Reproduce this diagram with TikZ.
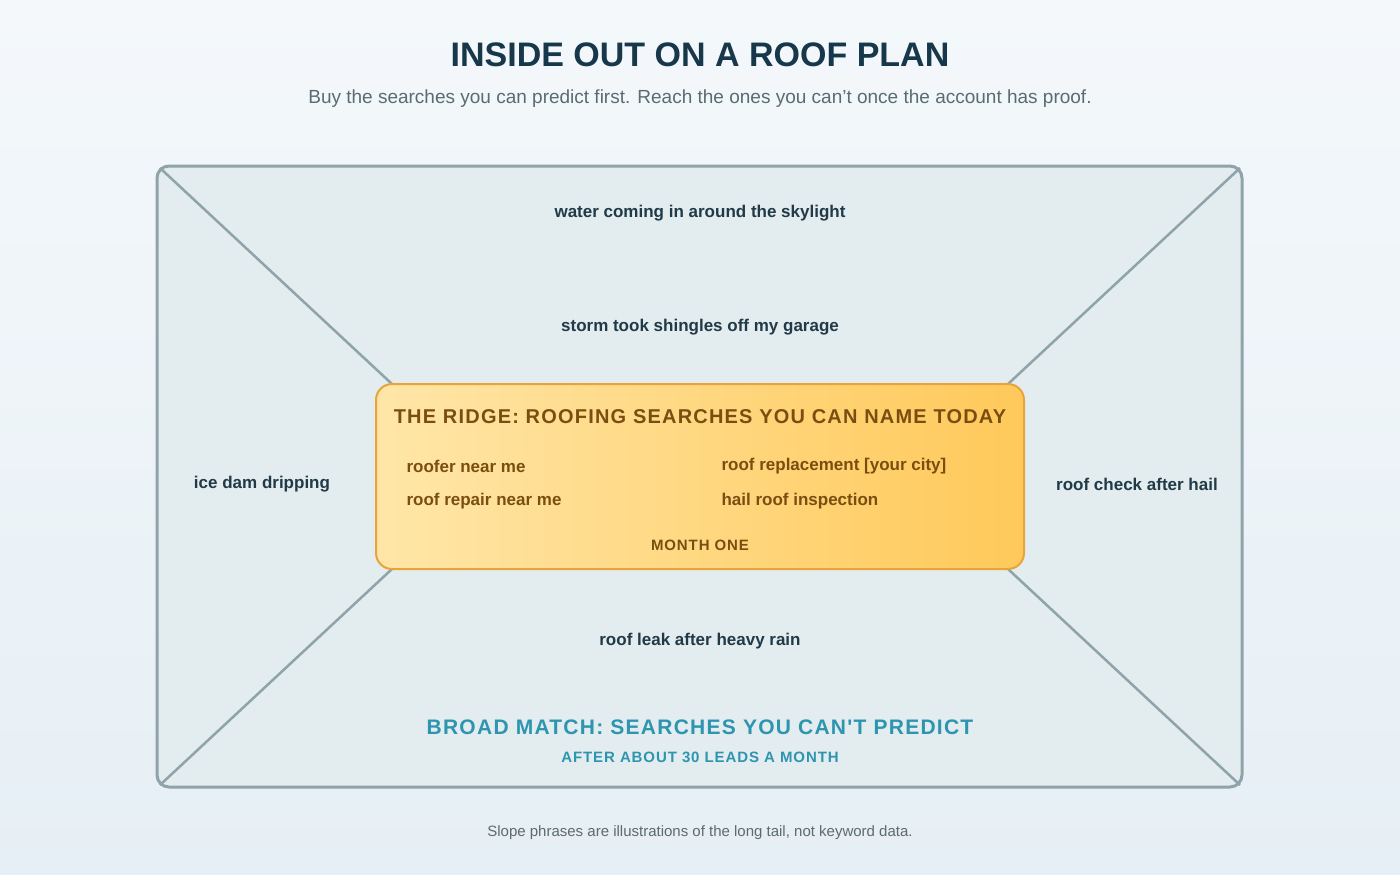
\documentclass[tikz,border=0pt]{standalone}
\usepackage{fontspec}
\setmainfont{Liberation Sans}
\newfontfamily\spaced{Liberation Sans}[LetterSpace=6]
\usetikzlibrary{positioning}
\definecolor{TitleInk}{HTML}{17384A}
\definecolor{SubInk}{HTML}{5A6B73}
\definecolor{SlopeInk}{HTML}{213A47}
\definecolor{RoofFill}{HTML}{E3ECEE}
\definecolor{RoofLine}{HTML}{8FA3AA}
\definecolor{RidgeLeft}{HTML}{FFE6A8}
\definecolor{RidgeRight}{HTML}{FFC95A}
\definecolor{RidgeLine}{HTML}{E8A33A}
\definecolor{RidgeInk}{HTML}{7A4E10}
\definecolor{BroadInk}{HTML}{2E95B0}
\definecolor{BgTop}{HTML}{F4F8FB}
\definecolor{BgBottom}{HTML}{E6EFF5}
\tikzset{
    slope/.style={text=SlopeInk, font=\bfseries\fontsize{17}{20}\selectfont},
    ridge item/.style={text=RidgeInk, font=\bfseries\fontsize{17}{20}\selectfont, anchor=west},
    hip/.style={draw=RoofLine, line width=2.5pt}
}

\begin{document}
\begin{tikzpicture}[x=1pt, y=-1pt]

% Fond
\shade[top color=BgTop, bottom color=BgBottom] (0,0) rectangle (1400,875);
\useasboundingbox (0,0) rectangle (1400,875);

% Titre
\node[text=TitleInk, font=\bfseries\fontsize{34}{40}\selectfont] (title) at (700,55) {INSIDE OUT ON A ROOF PLAN};
\node[text=SubInk, font=\fontsize{19}{23}\selectfont] (subtitle) at (700,99)
    {Buy the searches you can predict first. Reach the ones you can't once the account has proof.};

% Toit
\draw[fill=RoofFill, draw=RoofLine, line width=3pt, rounded corners=12pt] (157,166) rectangle (1242,787);
\coordinate (NW) at (160,168);
\coordinate (NE) at (1240,168);
\coordinate (SE) at (1240,785);
\coordinate (SW) at (160,785);

% Faîtage
\coordinate (rNW) at (392,384);
\coordinate (rNE) at (1008,384);
\coordinate (rSE) at (1008,569);
\coordinate (rSW) at (392,569);
\draw[hip] (NW) -- (rNW);
\draw[hip] (NE) -- (rNE);
\draw[hip] (SE) -- (rSE);
\draw[hip] (SW) -- (rSW);
\shade[left color=RidgeLeft, right color=RidgeRight, rounded corners=16pt] (376,384) rectangle (1024,569);
\draw[draw=RidgeLine, line width=2pt, rounded corners=16pt] (376,384) rectangle (1024,569);

\node[text=RidgeInk, font=\spaced\bfseries\fontsize{20}{24}\selectfont] (ridge) at (700,417)
    {THE RIDGE: ROOFING SEARCHES YOU CAN NAME TODAY};
\node[ridge item] (k1) at (403,466) {roofer near me};
\node[ridge item] (k2) at (718,466) {roof replacement [your city]};
\node[ridge item] (k3) at (403,501) {roof repair near me};
\node[ridge item] (k4) at (718,501) {hail roof inspection};
\node[text=RidgeInk, font=\spaced\bfseries\fontsize{15}{18}\selectfont] (month) at (700,545) {MONTH ONE};

% Pentes
\node[slope] (s1) at (700,213) {water coming in around the skylight};
\node[slope] (s2) at (700,327) {storm took shingles off my garage};
\node[slope] (s3) at (262,484) {ice dam dripping};
\node[slope] (s4) at (1137,484) {roof check after hail};
\node[slope] (s5) at (700,641) {roof leak after heavy rain};

\node[text=BroadInk, font=\spaced\bfseries\fontsize{21}{25}\selectfont] (broad) at (700,727)
    {BROAD MATCH: SEARCHES YOU CAN'T PREDICT};
\node[text=BroadInk, font=\spaced\bfseries\fontsize{15}{18}\selectfont] (after) at (700,757)
    {AFTER ABOUT 30 LEADS A MONTH};

% Note
\node[text=SubInk, font=\fontsize{15}{18}\selectfont] (note) at (700,833)
    {Slope phrases are illustrations of the long tail, not keyword data.};

\end{tikzpicture}
\end{document}
